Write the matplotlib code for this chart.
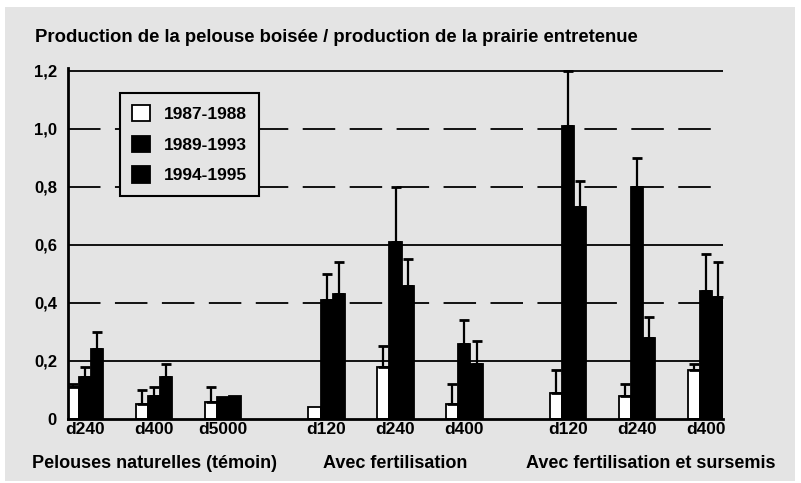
import numpy as np
import matplotlib
matplotlib.use("Agg")
import matplotlib.pyplot as plt
from matplotlib.patches import Rectangle

# ---- data ----
categories = ["d240", "d400", "d5000", "d120", "d240", "d400", "d120", "d240", "d400"]
group_labels = ["Pelouses naturelles (témoin)", "Avec fertilisation",
                "Avec fertilisation et sursemis"]
series_names = ["1987-1988", "1989-1993", "1994-1995"]
s1 = [0.11, 0.05, 0.06, 0.04, 0.18, 0.05, 0.09, 0.08, 0.17]
s1_err = [0.01, 0.05, 0.05, 0.0, 0.07, 0.07, 0.08, 0.04, 0.02]
s2 = [0.145, 0.08, 0.075, 0.41, 0.61, 0.26, 1.01, 0.80, 0.44]
s2_err = [0.035, 0.03, 0.0, 0.09, 0.19, 0.08, 0.19, 0.10, 0.13]
s3 = [0.24, 0.145, 0.08, 0.43, 0.46, 0.19, 0.73, 0.28, 0.42]
s3_err = [0.06, 0.045, 0.0, 0.11, 0.09, 0.08, 0.09, 0.07, 0.12]
y_ticks = [0, 0.2, 0.4, 0.6, 0.8, 1.0, 1.2]
y_ticklabels = ["0", "0,2", "0,4", "0,6", "0,8", "1,0", "1,2"]
title = "Production de la pelouse boisée / production de la prairie entretenue"

BG = "#e4e4e4"
plt.rcParams['font.family'] = ['Liberation Sans', 'DejaVu Sans']

fig = plt.figure(figsize=(8.01, 4.83), dpi=100, facecolor="white")
fig.patches.append(Rectangle((5 / 801, 2 / 483), 790 / 801, 474 / 483,
                             transform=fig.transFigure, facecolor=BG,
                             edgecolor="none", zorder=-10))
ax = fig.add_axes([68 / 801, 64 / 483, 655 / 801, 351 / 483])
ax.set_facecolor(BG)

# positions: 3 groups of 3 with wider gaps between groups
pos = np.array([0, 1, 2, 3.5, 4.5, 5.5, 7, 8, 9], dtype=float)
w = 0.175
offs = [-w, 0.0, w]
colors = ["white", "black", "black"]

# gridlines
grid_styles = {0.2: "solid", 0.4: (0, (18, 8)), 0.6: "solid",
               0.8: (0, (18, 8)), 1.0: (0, (18, 8)), 1.2: "solid"}
for yv, ls in grid_styles.items():
    ax.axhline(yv, color="black", lw=1.3, ls=ls, zorder=0)

handles = []
for vals, errs, off, col in zip([s1, s2, s3], [s1_err, s2_err, s3_err], offs, colors):
    x = pos + off
    b = ax.bar(x, vals, width=w, color=col, edgecolor="black", linewidth=1.3, zorder=2)
    handles.append(b)
    e = np.array(errs)
    m = e > 0
    ax.errorbar(x[m], np.array(vals)[m], yerr=[np.zeros(m.sum()), e[m]], fmt="none",
                ecolor="black", elinewidth=1.6, capsize=3.5, capthick=2, zorder=3)

ax.set_xlim(-0.25, 9.25)
ax.set_ylim(0, 1.21)
ax.set_yticks(y_ticks)
ax.set_yticklabels(y_ticklabels, fontsize=12, fontweight="bold")
ax.set_xticks(pos)
ax.set_xticklabels(categories, fontsize=12.5, fontweight="bold")
ax.tick_params(axis="both", length=0)
ax.tick_params(axis="y", pad=8)
ax.tick_params(axis="x", pad=2)
for s in ["top", "right"]:
    ax.spines[s].set_visible(False)
ax.spines["left"].set_linewidth(2)
ax.spines["bottom"].set_linewidth(2)

# group labels
for gx, gl in zip([1, 4.5, 8.2], group_labels):
    ax.text(gx, -0.125, gl, transform=ax.transData, ha="center", va="top",
            fontsize=13, fontweight="bold", clip_on=False)

fig.text(35 / 801, 1 - 38 / 483, title, fontsize=13.3, fontweight="bold",
         ha="left", va="center")

leg = ax.legend(handles, series_names, loc="upper left", bbox_to_anchor=(0.079, 0.93),
                fontsize=12.5, frameon=True, fancybox=False, framealpha=1,
                facecolor=BG, edgecolor="black", handlelength=1.05,
                handleheight=1.05, borderpad=0.7, labelspacing=0.8,
                handletextpad=0.8, borderaxespad=0)
leg.get_frame().set_linewidth(1.5)
for t in leg.get_texts():
    t.set_fontweight("bold")

fig.savefig("out.png", dpi=100, facecolor="white")
